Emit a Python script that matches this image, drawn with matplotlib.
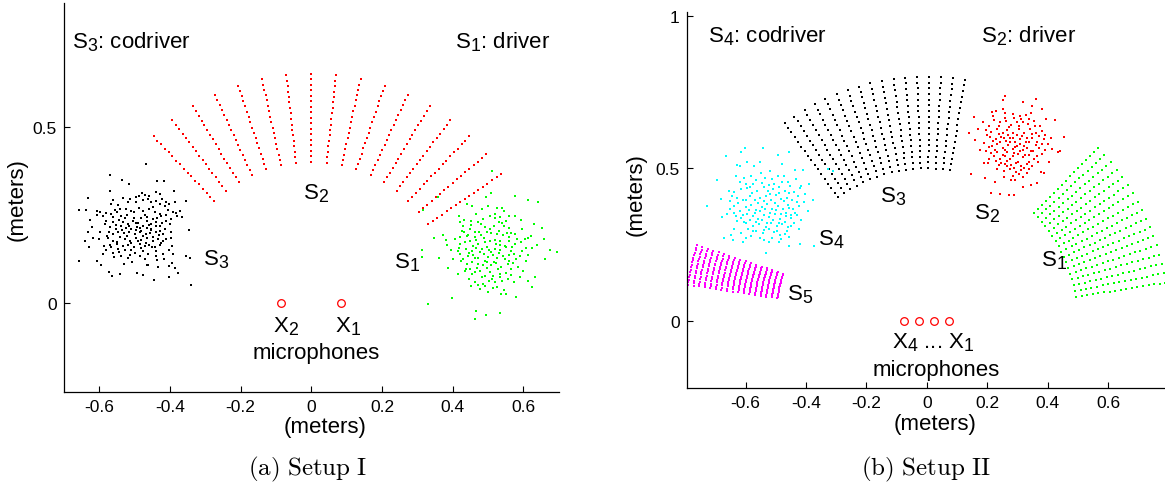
import numpy as np
import matplotlib
matplotlib.use("Agg")
import matplotlib.pyplot as plt

try:
    import matplotlib._mathtext as _mt
    _mt.SHRINK_FACTOR = 0.8
    _mt.FontConstantsBase.sub1 = 0.32
    _mt.FontConstantsBase.sub2 = 0.42
except Exception:
    pass

plt.rcParams['font.family'] = ['Liberation Sans', 'DejaVu Sans']
plt.rcParams['mathtext.fontset'] = 'custom'
plt.rcParams['mathtext.rm'] = 'Liberation Sans'
plt.rcParams['mathtext.it'] = 'Liberation Sans'
plt.rcParams['mathtext.bf'] = 'Liberation Sans:bold'

# ---------------- data: Setup I ----------------
grid1_s2_angles_deg = [34.2, 40.4, 46.6, 52.8, 59.0, 65.2, 71.4, 77.6, 83.8,
                       90.0, 96.2, 102.4, 108.6, 114.8, 121.0, 127.2, 133.4]
grid1_s2_radii = [0.400, 0.416, 0.431, 0.447, 0.463, 0.478, 0.494, 0.509, 0.525,
                  0.541, 0.556, 0.572, 0.588, 0.603, 0.619, 0.634, 0.650]

cloud1_s3 = [
    (-0.469, 0.395), (-0.569, 0.362), (-0.537, 0.350), (-0.516, 0.339), (-0.569, 0.318),
    (-0.633, 0.298), (-0.658, 0.264), (-0.637, 0.265), (-0.436, 0.347), (-0.417, 0.345),
    (-0.390, 0.317), (-0.354, 0.289), (-0.346, 0.207), (-0.354, 0.133), (-0.344, 0.127),
    (-0.340, 0.052), (-0.658, 0.120), (-0.641, 0.176), (-0.633, 0.203), (-0.629, 0.158),
    (-0.607, 0.119), (-0.594, 0.108), (-0.573, 0.088), (-0.563, 0.078), (-0.542, 0.084),
    (-0.529, 0.110), (-0.493, 0.085), (-0.476, 0.080), (-0.465, 0.108), (-0.446, 0.065),
    (-0.434, 0.103), (-0.404, 0.105), (-0.403, 0.073), (-0.386, 0.101), (-0.376, 0.086),
    (-0.395, 0.114),
    (-0.489, 0.305), (-0.478, 0.311), (-0.471, 0.307), (-0.458, 0.305), (-0.439, 0.314),
    (-0.429, 0.309), (-0.441, 0.290), (-0.453, 0.286), (-0.476, 0.291), (-0.497, 0.286),
    (-0.512, 0.295), (-0.520, 0.288), (-0.561, 0.292), (-0.566, 0.280), (-0.547, 0.278),
    (-0.410, 0.288), (-0.403, 0.280), (-0.387, 0.286), (-0.429, 0.281),
    (-0.608, 0.262), (-0.597, 0.259), (-0.580, 0.256), (-0.557, 0.265), (-0.550, 0.258),
    (-0.525, 0.267), (-0.509, 0.262), (-0.488, 0.269), (-0.476, 0.262), (-0.458, 0.267),
    (-0.443, 0.258), (-0.429, 0.253), (-0.406, 0.265), (-0.392, 0.259), (-0.382, 0.256),
    (-0.373, 0.262), (-0.607, 0.250), (-0.590, 0.248), (-0.561, 0.243), (-0.538, 0.246),
    (-0.521, 0.250), (-0.503, 0.242), (-0.481, 0.241), (-0.465, 0.245), (-0.448, 0.239),
    (-0.425, 0.246), (-0.412, 0.250), (-0.379, 0.246), (-0.365, 0.245),
    (-0.580, 0.234), (-0.561, 0.229), (-0.544, 0.237), (-0.533, 0.231), (-0.519, 0.225),
    (-0.505, 0.234), (-0.491, 0.227), (-0.476, 0.220), (-0.465, 0.234), (-0.453, 0.225),
    (-0.439, 0.231), (-0.429, 0.218), (-0.410, 0.234), (-0.401, 0.225), (-0.571, 0.215),
    (-0.554, 0.210), (-0.538, 0.218), (-0.525, 0.212), (-0.509, 0.210), (-0.493, 0.215),
    (-0.481, 0.206), (-0.465, 0.212), (-0.453, 0.208), (-0.441, 0.218), (-0.429, 0.206),
    (-0.415, 0.210), (-0.599, 0.201), (-0.573, 0.203), (-0.547, 0.203), (-0.531, 0.199),
    (-0.516, 0.203), (-0.500, 0.196), (-0.486, 0.201), (-0.469, 0.196), (-0.456, 0.199),
    (-0.439, 0.203), (-0.420, 0.196), (-0.398, 0.201),
    (-0.601, 0.182), (-0.575, 0.184), (-0.561, 0.177), (-0.542, 0.187), (-0.528, 0.182),
    (-0.514, 0.177), (-0.497, 0.184), (-0.481, 0.179), (-0.465, 0.185), (-0.448, 0.177),
    (-0.434, 0.182), (-0.420, 0.175), (-0.571, 0.165), (-0.550, 0.168), (-0.533, 0.161),
    (-0.519, 0.165), (-0.503, 0.158), (-0.486, 0.168), (-0.472, 0.161), (-0.458, 0.165),
    (-0.443, 0.158), (-0.429, 0.165), (-0.396, 0.184), (-0.393, 0.163), (-0.588, 0.161),
    (-0.547, 0.154), (-0.509, 0.152), (-0.476, 0.149), (-0.439, 0.149),
    (-0.590, 0.140), (-0.561, 0.142), (-0.559, 0.130), (-0.538, 0.135), (-0.519, 0.127),
    (-0.486, 0.133), (-0.472, 0.125), (-0.439, 0.135), (-0.420, 0.140), (-0.392, 0.140),
    (-0.531, 0.111), (-0.507, 0.118), (-0.462, 0.107),
    (-0.585, 0.225), (-0.567, 0.252), (-0.552, 0.222), (-0.541, 0.268), (-0.528, 0.240),
    (-0.515, 0.218), (-0.502, 0.258), (-0.497, 0.228), (-0.485, 0.212), (-0.472, 0.250),
    (-0.460, 0.222), (-0.447, 0.272), (-0.436, 0.241), (-0.422, 0.226), (-0.414, 0.275),
    (-0.397, 0.238), (-0.578, 0.190), (-0.562, 0.196), (-0.551, 0.173), (-0.536, 0.208),
    (-0.523, 0.190), (-0.511, 0.170), (-0.495, 0.207), (-0.490, 0.175), (-0.477, 0.190),
    (-0.468, 0.172), (-0.455, 0.210), (-0.447, 0.189), (-0.432, 0.193), (-0.425, 0.170),
    (-0.411, 0.181), (-0.404, 0.152), (-0.582, 0.150), (-0.566, 0.160), (-0.545, 0.145),
    (-0.527, 0.150), (-0.513, 0.137), (-0.498, 0.143), (-0.482, 0.157), (-0.463, 0.140),
    (-0.452, 0.160), (-0.437, 0.122), (-0.416, 0.125), (-0.620, 0.215), (-0.617, 0.185),
    (-0.627, 0.235), (-0.533, 0.298), (-0.495, 0.300), (-0.462, 0.296), (-0.422, 0.296),
]

cloud1_s1 = [
    (0.511, 0.375), (0.578, 0.303), (0.612, 0.291), (0.642, 0.286), (0.313, 0.151),
    (0.312, 0.132), (0.346, 0.185), (0.329, -0.002), (0.399, 0.015), (0.465, -0.021),
    (0.495, -0.032), (0.535, -0.028), (0.462, -0.044), (0.580, 0.017), (0.613, 0.062),
    (0.626, 0.045), (0.632, 0.075), (0.659, 0.182), (0.676, 0.151), (0.695, 0.146),
    (0.662, 0.125), (0.652, 0.212), (0.629, 0.225), (0.593, 0.236), (0.509, 0.312),
    (0.495, 0.300), (0.454, 0.276), (0.441, 0.282), (0.384, 0.165), (0.361, 0.128),
    (0.373, 0.192), (0.381, 0.180), (0.316, 0.265), (0.360, 0.300),
    (0.484, 0.267), (0.500, 0.275), (0.525, 0.269), (0.539, 0.271), (0.546, 0.261),
    (0.561, 0.248), (0.576, 0.248), (0.418, 0.248), (0.431, 0.237), (0.453, 0.234),
    (0.472, 0.231), (0.486, 0.239), (0.505, 0.248), (0.519, 0.241), (0.531, 0.229),
    (0.552, 0.234), (0.420, 0.229), (0.427, 0.206), (0.431, 0.203), (0.448, 0.210),
    (0.463, 0.203), (0.476, 0.201), (0.493, 0.215), (0.505, 0.210), (0.516, 0.220),
    (0.531, 0.206), (0.545, 0.218), (0.559, 0.212), (0.566, 0.199), (0.406, 0.182),
    (0.420, 0.187), (0.443, 0.193), (0.462, 0.187), (0.481, 0.192), (0.497, 0.203),
    (0.527, 0.196), (0.542, 0.192), (0.561, 0.187), (0.578, 0.196), (0.604, 0.182),
    (0.613, 0.184), (0.418, 0.156), (0.422, 0.168), (0.434, 0.173), (0.448, 0.177),
    (0.459, 0.163), (0.472, 0.168), (0.491, 0.173), (0.505, 0.177), (0.522, 0.168),
    (0.535, 0.175), (0.547, 0.163), (0.561, 0.177), (0.578, 0.168), (0.594, 0.173),
    (0.608, 0.156), (0.624, 0.156), (0.415, 0.149), (0.439, 0.154), (0.456, 0.149),
    (0.467, 0.156), (0.484, 0.154), (0.503, 0.152), (0.519, 0.154), (0.533, 0.152),
    (0.552, 0.158), (0.566, 0.149), (0.420, 0.140), (0.443, 0.133), (0.458, 0.137),
    (0.472, 0.127), (0.488, 0.140), (0.500, 0.130), (0.514, 0.137), (0.525, 0.127),
    (0.542, 0.133), (0.559, 0.137), (0.575, 0.140), (0.592, 0.135), (0.401, 0.124),
    (0.425, 0.121), (0.441, 0.111), (0.456, 0.116), (0.472, 0.111), (0.486, 0.107),
    (0.497, 0.118), (0.509, 0.107), (0.524, 0.114), (0.538, 0.102), (0.557, 0.111),
    (0.571, 0.114), (0.580, 0.124), (0.607, 0.121), (0.415, 0.083), (0.434, 0.090),
    (0.450, 0.097), (0.462, 0.088), (0.478, 0.092), (0.491, 0.078), (0.505, 0.088),
    (0.514, 0.076), (0.533, 0.083), (0.552, 0.086), (0.566, 0.097), (0.446, 0.069),
    (0.462, 0.061), (0.472, 0.052), (0.486, 0.055), (0.503, 0.064), (0.519, 0.059),
    (0.533, 0.074), (0.453, 0.048), (0.500, 0.033), (0.514, 0.042), (0.525, 0.045),
    (0.545, 0.039), (0.550, 0.026), (0.566, 0.080),
    (0.428, 0.218), (0.440, 0.190), (0.452, 0.222), (0.466, 0.180), (0.479, 0.224),
    (0.488, 0.186), (0.497, 0.160), (0.510, 0.198), (0.521, 0.180), (0.533, 0.164),
    (0.540, 0.228), (0.553, 0.200), (0.569, 0.160), (0.583, 0.182), (0.597, 0.148),
    (0.612, 0.137), (0.430, 0.125), (0.446, 0.141), (0.462, 0.128), (0.478, 0.144),
    (0.493, 0.120), (0.508, 0.146), (0.518, 0.118), (0.530, 0.141), (0.547, 0.125),
    (0.560, 0.120), (0.586, 0.104), (0.600, 0.090), (0.438, 0.098), (0.455, 0.083),
    (0.470, 0.099), (0.484, 0.074), (0.497, 0.099), (0.511, 0.068), (0.528, 0.096),
    (0.541, 0.062), (0.557, 0.070), (0.575, 0.060), (0.590, 0.075), (0.478, 0.040),
    (0.492, 0.048), (0.536, 0.025), (0.520, 0.252), (0.535, 0.245), (0.466, 0.253),
    (0.597, 0.210), (0.622, 0.190), (0.640, 0.165), (0.395, 0.150), (0.388, 0.100),
]

mics1_x = [0.085, -0.085]
mics1_y = [0.0, 0.0]

# ---------------- data: Setup II ----------------
grid_radii = [0.500, 0.519, 0.538, 0.556, 0.575, 0.594, 0.613, 0.631, 0.650,
              0.669, 0.688, 0.706, 0.725, 0.744, 0.763, 0.781, 0.800]
grid2_s1_angles_deg = [9.0, 11.25, 13.5, 15.75, 18.0, 20.25, 22.5, 24.75, 27.0,
                       29.25, 31.5, 33.75, 36.0, 38.25, 40.5, 42.75, 45.0]
grid2_s3_angles_deg = [81.0, 83.8, 86.6, 89.4, 92.3, 95.1, 97.9, 100.7, 103.5,
                       106.3, 109.1, 111.9, 114.8, 117.6, 120.4, 123.2, 126.0]
grid2_s5_angles_deg = [162.0, 162.6, 163.2, 163.8, 164.4, 165.0, 165.5, 166.1, 166.7,
                       167.3, 167.9, 168.5, 169.1, 169.7, 170.3, 170.9, 171.5]

cloud2_s4 = [
    (-0.544, 0.566), (-0.603, 0.566), (-0.616, 0.552), (-0.666, 0.539), (-0.695, 0.462),
    (-0.728, 0.377), (-0.677, 0.339), (-0.671, 0.270), (-0.643, 0.264), (-0.610, 0.259),
    (-0.533, 0.222), (-0.456, 0.244), (-0.419, 0.251), (-0.373, 0.246), (-0.377, 0.397),
    (-0.389, 0.449), (-0.411, 0.493), (-0.437, 0.494), (-0.456, 0.554), (-0.494, 0.543),
    (-0.478, 0.515), (-0.519, 0.491), (-0.552, 0.521), (-0.572, 0.506), (-0.630, 0.510),
    (-0.618, 0.508), (-0.596, 0.521), (-0.312, 0.492), (-0.327, 0.497),
    (-0.632, 0.475), (-0.605, 0.467), (-0.583, 0.473), (-0.550, 0.486), (-0.536, 0.467),
    (-0.511, 0.464), (-0.492, 0.475), (-0.472, 0.473), (-0.461, 0.456), (-0.434, 0.464),
    (-0.417, 0.443), (-0.655, 0.426), (-0.638, 0.421), (-0.614, 0.432), (-0.594, 0.434),
    (-0.574, 0.448), (-0.561, 0.426), (-0.539, 0.437), (-0.522, 0.445), (-0.508, 0.432),
    (-0.489, 0.440), (-0.470, 0.426), (-0.453, 0.443), (-0.439, 0.423), (-0.419, 0.434),
    (-0.404, 0.415), (-0.680, 0.399), (-0.651, 0.393), (-0.627, 0.404), (-0.610, 0.397),
    (-0.585, 0.410), (-0.570, 0.397), (-0.552, 0.404), (-0.533, 0.410), (-0.517, 0.397),
    (-0.500, 0.412), (-0.483, 0.399), (-0.464, 0.404), (-0.445, 0.397), (-0.428, 0.408),
    (-0.406, 0.388), (-0.653, 0.366), (-0.638, 0.375), (-0.618, 0.361), (-0.599, 0.372),
    (-0.583, 0.379), (-0.566, 0.364), (-0.547, 0.372), (-0.528, 0.383), (-0.511, 0.366),
    (-0.494, 0.377), (-0.475, 0.366), (-0.459, 0.379), (-0.442, 0.368), (-0.422, 0.377),
    (-0.395, 0.361), (-0.632, 0.344), (-0.616, 0.336), (-0.594, 0.350), (-0.574, 0.342),
    (-0.558, 0.333), (-0.539, 0.346), (-0.522, 0.339), (-0.503, 0.350), (-0.486, 0.333),
    (-0.467, 0.342), (-0.450, 0.336), (-0.430, 0.346), (-0.417, 0.331), (-0.627, 0.328),
    (-0.599, 0.320), (-0.577, 0.311), (-0.555, 0.317), (-0.533, 0.309), (-0.517, 0.322),
    (-0.497, 0.311), (-0.478, 0.317), (-0.459, 0.306), (-0.439, 0.320), (-0.592, 0.301),
    (-0.566, 0.295), (-0.544, 0.287), (-0.522, 0.301), (-0.506, 0.290), (-0.486, 0.281),
    (-0.464, 0.295), (-0.614, 0.287), (-0.583, 0.277), (-0.552, 0.273), (-0.511, 0.273),
    (-0.483, 0.268), (-0.522, 0.257), (-0.489, 0.257), (-0.638, 0.301), (-0.649, 0.281),
    (-0.423, 0.301),
    (-0.620, 0.455), (-0.600, 0.448), (-0.585, 0.440), (-0.565, 0.460), (-0.545, 0.452),
    (-0.525, 0.425), (-0.505, 0.450), (-0.480, 0.455), (-0.455, 0.420), (-0.430, 0.390),
    (-0.645, 0.410), (-0.625, 0.385), (-0.600, 0.395), (-0.578, 0.420), (-0.560, 0.385),
    (-0.540, 0.392), (-0.520, 0.415), (-0.502, 0.385), (-0.490, 0.420), (-0.472, 0.392),
    (-0.455, 0.370), (-0.435, 0.355), (-0.660, 0.350), (-0.640, 0.355), (-0.610, 0.348),
    (-0.590, 0.362), (-0.570, 0.352), (-0.552, 0.360), (-0.535, 0.368), (-0.518, 0.355),
    (-0.500, 0.362), (-0.482, 0.350), (-0.465, 0.355), (-0.448, 0.348), (-0.605, 0.325),
    (-0.585, 0.332), (-0.565, 0.325), (-0.545, 0.330), (-0.528, 0.322), (-0.508, 0.330),
    (-0.490, 0.322), (-0.470, 0.325), (-0.450, 0.310), (-0.575, 0.295), (-0.540, 0.298),
    (-0.495, 0.295), (-0.470, 0.285), (-0.600, 0.270), (-0.540, 0.265), (-0.455, 0.275),
]

cloud2_s2 = [
    (0.258, 0.736), (0.254, 0.725), (0.320, 0.718), (0.361, 0.727), (0.350, 0.703),
    (0.380, 0.694), (0.394, 0.663), (0.425, 0.659), (0.455, 0.601), (0.442, 0.556),
    (0.433, 0.554), (0.416, 0.563), (0.405, 0.521), (0.389, 0.486), (0.377, 0.489),
    (0.364, 0.451), (0.344, 0.445), (0.320, 0.440), (0.289, 0.412), (0.273, 0.412),
    (0.243, 0.415), (0.214, 0.419), (0.225, 0.454), (0.192, 0.467), (0.146, 0.481),
    (0.159, 0.593), (0.140, 0.615), (0.155, 0.667), (0.190, 0.517), (0.203, 0.517),
    (0.317, 0.470), (0.291, 0.462), (0.339, 0.497),
    (0.217, 0.683), (0.228, 0.689), (0.251, 0.694), (0.258, 0.681), (0.284, 0.678),
    (0.309, 0.670), (0.328, 0.674), (0.344, 0.681), (0.223, 0.659), (0.243, 0.650),
    (0.262, 0.656), (0.278, 0.642), (0.298, 0.652), (0.313, 0.661), (0.336, 0.645),
    (0.355, 0.656), (0.375, 0.639), (0.195, 0.626), (0.212, 0.620), (0.234, 0.628),
    (0.251, 0.617), (0.267, 0.626), (0.287, 0.617), (0.306, 0.628), (0.322, 0.615),
    (0.342, 0.628), (0.361, 0.617), (0.380, 0.623), (0.210, 0.601), (0.228, 0.596),
    (0.245, 0.604), (0.262, 0.590), (0.276, 0.598), (0.291, 0.587), (0.309, 0.596),
    (0.328, 0.585), (0.347, 0.598), (0.364, 0.587), (0.389, 0.596), (0.190, 0.583),
    (0.217, 0.574), (0.234, 0.579), (0.254, 0.568), (0.269, 0.576), (0.284, 0.563),
    (0.300, 0.572), (0.317, 0.561), (0.333, 0.568), (0.353, 0.557), (0.372, 0.568),
    (0.400, 0.579), (0.195, 0.557), (0.214, 0.550), (0.234, 0.554), (0.251, 0.543),
    (0.267, 0.552), (0.287, 0.541), (0.302, 0.546), (0.320, 0.536), (0.339, 0.543),
    (0.355, 0.530), (0.383, 0.546), (0.206, 0.530), (0.228, 0.525), (0.245, 0.517),
    (0.265, 0.525), (0.280, 0.510), (0.295, 0.517), (0.311, 0.506), (0.331, 0.514),
    (0.350, 0.508), (0.369, 0.519), (0.234, 0.497), (0.256, 0.492), (0.276, 0.497),
    (0.295, 0.489), (0.313, 0.495), (0.333, 0.486), (0.284, 0.475), (0.267, 0.506),
    (0.205, 0.640), (0.220, 0.670), (0.240, 0.640), (0.258, 0.665), (0.272, 0.635),
    (0.290, 0.665), (0.305, 0.640), (0.320, 0.650), (0.338, 0.660), (0.358, 0.640),
    (0.200, 0.610), (0.218, 0.590), (0.238, 0.612), (0.255, 0.600), (0.270, 0.610),
    (0.285, 0.600), (0.298, 0.610), (0.315, 0.605), (0.332, 0.600), (0.350, 0.612),
    (0.372, 0.605), (0.392, 0.610), (0.205, 0.570), (0.225, 0.560), (0.244, 0.585),
    (0.260, 0.560), (0.275, 0.585), (0.292, 0.570), (0.308, 0.580), (0.322, 0.572),
    (0.340, 0.585), (0.360, 0.575), (0.382, 0.580), (0.222, 0.540), (0.242, 0.530),
    (0.260, 0.540), (0.275, 0.530), (0.290, 0.550), (0.308, 0.555), (0.325, 0.545),
    (0.345, 0.555), (0.365, 0.540), (0.392, 0.560), (0.240, 0.510), (0.258, 0.515),
    (0.288, 0.500), (0.302, 0.522), (0.322, 0.500), (0.340, 0.520), (0.305, 0.480),
    (0.280, 0.460), (0.255, 0.470), (0.412, 0.600), (0.175, 0.560), (0.170, 0.630),
    (0.185, 0.650),
]

mics2_x = [0.075, 0.025, -0.025, -0.075]
mics2_y = [0.0, 0.0, 0.0, 0.0]

xticks = [-0.6, -0.4, -0.2, 0, 0.2, 0.4, 0.6]
xtick_labels = ['-0.6', '-0.4', '-0.2', '0', '0.2', '0.4', '0.6']
yticks1 = [0, 0.5]
ytick1_labels = ['0', '0.5']
yticks2 = [0, 0.5, 1]
ytick2_labels = ['0', '0.5', '1']


def polar_grid(angles_deg, radii):
    a = np.deg2rad(np.asarray(angles_deg))
    r = np.asarray(radii)
    A, R = np.meshgrid(a, r)
    return (R * np.cos(A)).ravel(), (R * np.sin(A)).ravel()


def dots(ax, x, y, color, ms=1.9):
    ax.plot(x, y, ls='none', marker='s', ms=ms, mew=0, color=color)


def style(ax):
    for s in ('top', 'right'):
        ax.spines[s].set_visible(False)
    for s in ('left', 'bottom'):
        ax.spines[s].set_linewidth(0.9)
    ax.tick_params(direction='in', length=4, width=0.8, labelsize=12.5, pad=5)


fig = plt.figure(figsize=(11.65, 4.89), dpi=100)

# ---------------- Setup I ----------------
ax1 = fig.add_axes([64 / 1165, 1 - 392.6 / 489, 494.6 / 1165, 388.6 / 489])
ax1.set_xlim(-0.7, 0.7)
ax1.set_ylim(-0.25, 0.85)
style(ax1)
ax1.set_xticks(xticks, xtick_labels)
ax1.set_yticks(yticks1, ytick1_labels)

gx, gy = polar_grid(grid1_s2_angles_deg, grid1_s2_radii)
dots(ax1, gx, gy, 'red')
c = np.array(cloud1_s3)
dots(ax1, c[:, 0], c[:, 1], 'black')
c = np.array(cloud1_s1)
dots(ax1, c[:, 0], c[:, 1], (0, 1, 0))
ax1.plot(mics1_x, mics1_y, ls='none', marker='o', ms=5.5, mfc='none', mec='red', mew=0.9)

fs = 16
ax1.text(-0.676, 0.725, r'S$_3$: codriver', fontsize=fs)
ax1.text(0.406, 0.725, r'S$_1$: driver', fontsize=fs)
ax1.text(-0.024, 0.297, r'S$_2$', fontsize=fs)
ax1.text(-0.307, 0.111, r'S$_3$', fontsize=fs)
ax1.text(0.234, 0.102, r'S$_1$', fontsize=fs)
ax1.text(-0.109, -0.078, r'X$_2$', fontsize=fs)
ax1.text(0.066, -0.078, r'X$_1$', fontsize=fs)
ax1.text(0.014, -0.156, 'microphones', fontsize=fs, ha='center')

fig.text(325 / 1165, 1 - 428 / 489, '(meters)', fontsize=fs, ha='center', va='center')
fig.text(17 / 1165, 1 - 200 / 489, '(meters)', fontsize=fs, ha='center', va='center',
         rotation=90)
fig.text(308 / 1165, 1 - 475 / 489, r'$\mathrm{(a)\ Setup\ I}$', fontsize=18,
         ha='center', va='baseline', math_fontfamily='cm')

# ---------------- Setup II ----------------
ax2 = fig.add_axes([686.7 / 1165, 1 - 389 / 489, (1.595 * 302) / 1165, 375.7 / 489])
ax2.set_xlim(-0.795, 0.80)
ax2.set_ylim(-0.22, 1.011)
style(ax2)
ax2.set_xticks(xticks, xtick_labels)
ax2.set_yticks(yticks2, ytick2_labels)

gx, gy = polar_grid(grid2_s3_angles_deg, grid_radii)
dots(ax2, gx, gy, 'black')
gx, gy = polar_grid(grid2_s1_angles_deg, grid_radii)
dots(ax2, gx, gy, (0, 1, 0))
gx, gy = polar_grid(grid2_s5_angles_deg, grid_radii)
dots(ax2, gx, gy, (1, 0, 1))
c = np.array(cloud2_s4)
dots(ax2, c[:, 0], c[:, 1], (0, 1, 1))
c = np.array(cloud2_s2)
dots(ax2, c[:, 0], c[:, 1], 'red')
ax2.plot(mics2_x, mics2_y, ls='none', marker='o', ms=5.5, mfc='none', mec='red', mew=0.9)

ax2.text(-0.726, 0.916, r'S$_4$: codriver', fontsize=fs)
ax2.text(0.181, 0.916, r'S$_2$: driver', fontsize=fs)
ax2.text(-0.155, 0.393, r'S$_3$', fontsize=fs)
ax2.text(0.157, 0.336, r'S$_2$', fontsize=fs)
ax2.text(-0.360, 0.251, r'S$_4$', fontsize=fs)
ax2.text(0.377, 0.183, r'S$_1$', fontsize=fs)
ax2.text(-0.464, 0.071, r'S$_5$', fontsize=fs)
ax2.text(-0.114, -0.087, r'X$_4$ ... X$_1$', fontsize=fs)
ax2.text(0.030, -0.178, 'microphones', fontsize=fs, ha='center')

fig.text(935 / 1165, 1 - 425 / 489, '(meters)', fontsize=fs, ha='center', va='center')
fig.text(636 / 1165, 1 - 195 / 489, '(meters)', fontsize=fs, ha='center', va='center',
         rotation=90)
fig.text(926 / 1165, 1 - 475 / 489, r'$\mathrm{(b)\ Setup\ II}$', fontsize=18,
         ha='center', va='baseline', math_fontfamily='cm')

fig.savefig('out.png', dpi=100)
